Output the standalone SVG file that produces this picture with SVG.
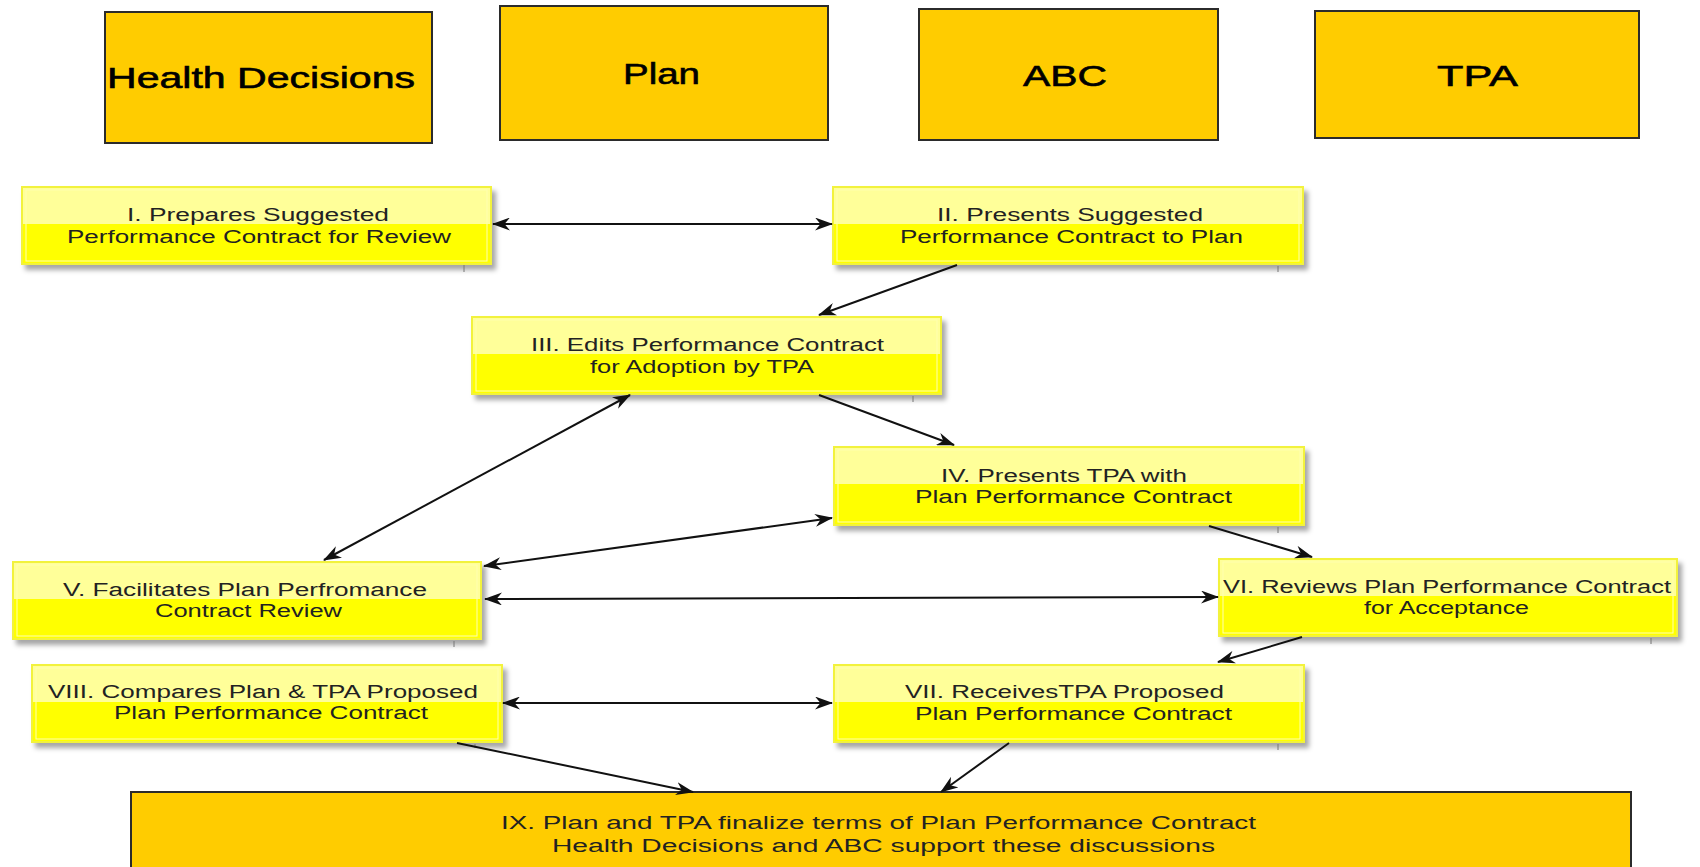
<svg xmlns="http://www.w3.org/2000/svg" width="1700" height="867" viewBox="0 0 1700 867">
<defs>
<marker id="ah" viewBox="0 0 18 13" refX="17" refY="6.5" markerWidth="18" markerHeight="13" markerUnits="userSpaceOnUse" orient="auto-start-reverse">
<path d="M0,0 L18,6.5 L0,13 L5.5,6.5 z" fill="#111"/>
</marker>
<filter id="sh" x="-5%" y="-20%" width="115%" height="150%">
<feDropShadow dx="4" dy="5" stdDeviation="2.5" flood-color="#000" flood-opacity="0.35"/>
</filter>
</defs>
<style>
.hdr{fill:#FFCC00;stroke:#2b2b2b;stroke-width:2}
.ht{font-family:"Liberation Sans",Arial,sans-serif;font-size:30px;fill:#000;stroke:#000;stroke-width:0.6}
.yb{fill:#FFFF00;stroke:#F2F23C;stroke-width:2}
.yt{fill:#FFFF99}
.yi{fill:none;stroke:#FFFFB0;stroke-width:1}
.bt{font-family:"Liberation Sans",Arial,sans-serif;font-size:18px;fill:#222}
.tick{stroke:#777;stroke-width:1}
.cn{stroke:#111;stroke-width:2;fill:none;marker-end:url(#ah)}
.bi{marker-start:url(#ah)}
</style>
<rect width="1700" height="867" fill="#fff"/>

<g id="hdr-health">
<rect class="hdr" x="105" y="12" width="327" height="131"/>
<text class="ht" x="107" y="88" textLength="308" lengthAdjust="spacingAndGlyphs">Health Decisions</text>
</g>
<g id="hdr-plan">
<rect class="hdr" x="500" y="6" width="328" height="134"/>
<text class="ht" x="623" y="84" textLength="77" lengthAdjust="spacingAndGlyphs">Plan</text>
</g>
<g id="hdr-abc">
<rect class="hdr" x="919" y="9" width="299" height="131"/>
<text class="ht" x="1023" y="86" textLength="84" lengthAdjust="spacingAndGlyphs">ABC</text>
</g>
<g id="hdr-tpa">
<rect class="hdr" x="1315" y="11" width="324" height="127"/>
<text class="ht" x="1437" y="86" textLength="81" lengthAdjust="spacingAndGlyphs">TPA</text>
</g>

<g id="n1">
<rect class="yb" x="22" y="187" width="469" height="77" filter="url(#sh)"/>
<rect class="yt" x="23" y="188" width="467" height="36"/>
<rect class="yi" x="26" y="190" width="461" height="71"/>
<line class="tick" x1="464" y1="265" x2="464" y2="272"/>
<text class="bt" x="127" y="221" textLength="262" lengthAdjust="spacingAndGlyphs">I. Prepares Suggested</text>
<text class="bt" x="67" y="243" textLength="384" lengthAdjust="spacingAndGlyphs">Performance Contract for Review</text>
</g>
<g id="n2">
<rect class="yb" x="833" y="187" width="470" height="77" filter="url(#sh)"/>
<rect class="yt" x="834" y="188" width="468" height="36"/>
<rect class="yi" x="837" y="190" width="462" height="71"/>
<line class="tick" x1="1278" y1="266" x2="1278" y2="272"/>
<text class="bt" x="937" y="221" textLength="266" lengthAdjust="spacingAndGlyphs">II. Presents Suggested</text>
<text class="bt" x="900" y="243" textLength="343" lengthAdjust="spacingAndGlyphs">Performance Contract to Plan</text>
</g>
<g id="n3">
<rect class="yb" x="472" y="317" width="469" height="77" filter="url(#sh)"/>
<rect class="yt" x="473" y="318" width="467" height="36"/>
<rect class="yi" x="476" y="320" width="461" height="71"/>
<line class="tick" x1="913" y1="396" x2="913" y2="402"/>
<text class="bt" x="531" y="351" textLength="353" lengthAdjust="spacingAndGlyphs">III. Edits Performance Contract</text>
<text class="bt" x="590" y="373" textLength="224" lengthAdjust="spacingAndGlyphs">for Adoption by TPA</text>
</g>
<g id="n4">
<rect class="yb" x="834" y="447" width="470" height="78" filter="url(#sh)"/>
<rect class="yt" x="835" y="448" width="468" height="36"/>
<rect class="yi" x="838" y="450" width="462" height="72"/>
<line class="tick" x1="1278" y1="527" x2="1278" y2="533"/>
<text class="bt" x="941" y="482" textLength="246" lengthAdjust="spacingAndGlyphs">IV. Presents TPA with</text>
<text class="bt" x="915" y="503" textLength="317" lengthAdjust="spacingAndGlyphs">Plan Performance Contract</text>
</g>
<g id="n5">
<rect class="yb" x="13" y="562" width="468" height="77" filter="url(#sh)"/>
<rect class="yt" x="14" y="563" width="466" height="36"/>
<rect class="yi" x="17" y="565" width="460" height="71"/>
<line class="tick" x1="454" y1="641" x2="454" y2="647"/>
<text class="bt" x="63" y="596" textLength="364" lengthAdjust="spacingAndGlyphs">V. Facilitates Plan Perfromance</text>
<text class="bt" x="155" y="617" textLength="187" lengthAdjust="spacingAndGlyphs">Contract Review</text>
</g>
<g id="n6">
<rect class="yb" x="1219" y="559" width="458" height="77" filter="url(#sh)"/>
<rect class="yt" x="1220" y="560" width="456" height="36"/>
<rect class="yi" x="1223" y="562" width="450" height="71"/>
<line class="tick" x1="1651" y1="638" x2="1651" y2="644"/>
<text class="bt" x="1223" y="593" textLength="448" lengthAdjust="spacingAndGlyphs">VI. Reviews Plan Performance Contract</text>
<text class="bt" x="1364" y="614" textLength="165" lengthAdjust="spacingAndGlyphs">for Acceptance</text>
</g>
<g id="n7">
<rect class="yb" x="834" y="665" width="470" height="77" filter="url(#sh)"/>
<rect class="yt" x="835" y="666" width="468" height="36"/>
<rect class="yi" x="838" y="668" width="462" height="71"/>
<line class="tick" x1="1278" y1="744" x2="1278" y2="750"/>
<text class="bt" x="905" y="698" textLength="319" lengthAdjust="spacingAndGlyphs">VII. ReceivesTPA Proposed</text>
<text class="bt" x="915" y="720" textLength="317" lengthAdjust="spacingAndGlyphs">Plan Performance Contract</text>
</g>
<g id="n8">
<rect class="yb" x="32" y="665" width="470" height="77" filter="url(#sh)"/>
<rect class="yt" x="33" y="666" width="468" height="36"/>
<rect class="yi" x="36" y="668" width="462" height="71"/>
<line class="tick" x1="475" y1="744" x2="475" y2="748"/>
<text class="bt" x="48" y="698" textLength="430" lengthAdjust="spacingAndGlyphs">VIII. Compares Plan &amp; TPA Proposed</text>
<text class="bt" x="114" y="719" textLength="314" lengthAdjust="spacingAndGlyphs">Plan Performance Contract</text>
</g>
<g id="n9">
<rect class="hdr" x="131" y="792" width="1500" height="90"/>
<text class="bt" x="501" y="829" textLength="755" lengthAdjust="spacingAndGlyphs">IX. Plan and TPA finalize terms of Plan Performance Contract</text>
<text class="bt" x="552" y="852" textLength="663" lengthAdjust="spacingAndGlyphs">Health Decisions and ABC support these discussions</text>
</g>

<g id="connectors">
<line class="cn bi" x1="493" y1="224" x2="832" y2="224"/>
<line class="cn" x1="957" y1="265" x2="819" y2="315"/>
<line class="cn" x1="819" y1="395" x2="954" y2="445"/>
<line class="cn bi" x1="630" y1="395" x2="324" y2="560"/>
<line class="cn bi" x1="832" y1="518" x2="484" y2="566"/>
<line class="cn" x1="1209" y1="526" x2="1312" y2="557"/>
<line class="cn bi" x1="485" y1="599" x2="1218" y2="597"/>
<line class="cn" x1="1302" y1="637" x2="1218" y2="662"/>
<line class="cn bi" x1="503" y1="703" x2="832" y2="703"/>
<line class="cn" x1="457" y1="743" x2="693" y2="792"/>
<line class="cn" x1="1009" y1="743" x2="941" y2="792"/>
</g>
</svg>
